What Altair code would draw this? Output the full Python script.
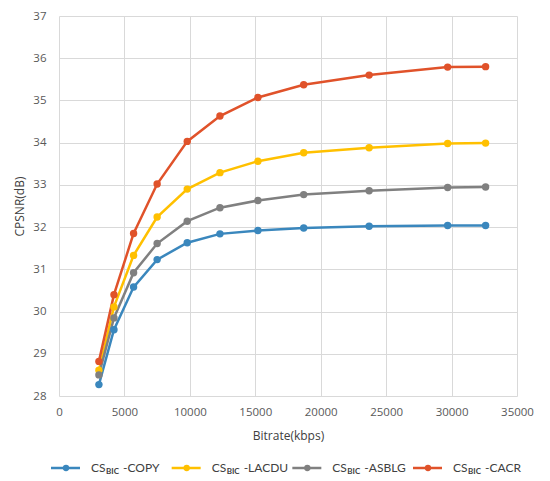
import altair as alt
import pandas as pd

bitrate = [3050, 4200, 5700, 7500, 9800, 12300, 15200, 18700, 23700, 29700, 32600]
copy_vals = [28.27, 29.57, 30.58, 31.23, 31.63, 31.84, 31.92, 31.98, 32.02, 32.04, 32.04]
lacdu_vals = [28.61, 30.11, 31.33, 32.24, 32.90, 33.29, 33.56, 33.76, 33.88, 33.98, 33.99]
asblg_vals = [28.50, 29.85, 30.92, 31.61, 32.14, 32.46, 32.63, 32.77, 32.86, 32.94, 32.95]
cacr_vals = [28.82, 30.40, 31.85, 33.02, 34.03, 34.63, 35.07, 35.37, 35.60, 35.79, 35.80]

names = ["COPY", "LACDU", "ASBLG", "CACR"]
suffixes = ["-COPY", "-LACDU", "-ASBLG", "-CACR"]
colors = ["#3A87BD", "#FFC000", "#808080", "#E0522A"]

rows = []
for name, vals in zip(names, [copy_vals, lacdu_vals, asblg_vals, cacr_vals]):
    for b, v in zip(bitrate, vals):
        rows.append({"series": name, "bitrate": b, "cpsnr": v})
df = pd.DataFrame(rows)

color_scale = alt.Scale(domain=names, range=colors)
FONT = "Open Sans"
LFONT = "Lato"

main = alt.Chart(df).mark_line(
    strokeWidth=2.5,
    point=alt.OverlayMarkDef(filled=True, size=55, opacity=1),
).encode(
    x=alt.X("bitrate:Q", title="Bitrate(kbps)",
            scale=alt.Scale(domain=[0, 35000], nice=False),
            axis=alt.Axis(values=list(range(0, 35001, 5000)), format="d",
                          labelPadding=10, titlePadding=13, labelFlush=False)),
    y=alt.Y("cpsnr:Q", title="CPSNR(dB)",
            scale=alt.Scale(domain=[28, 37], nice=False, zero=False),
            axis=alt.Axis(values=list(range(28, 38)), labelPadding=13, titlePadding=6,
                          labelFlush=False)),
    color=alt.Color("series:N", scale=color_scale, legend=None),
    order=alt.Order("bitrate:Q"),
).properties(width=458, height=380)

leg_df = pd.DataFrame({"series": names, "suffix": suffixes})
xleg = alt.X("series:N", scale=alt.Scale(type="point", domain=names, range=[-8, 354], padding=0),
             axis=None)
lbase = alt.Chart(leg_df).encode(x=xleg, y=alt.value(7))

leg_rule = lbase.mark_rule(strokeWidth=2.5, x2Offset=29).encode(
    x2=alt.X2("series:N"),
    color=alt.Color("series:N", scale=color_scale, legend=None))
leg_pt = lbase.mark_circle(size=40, opacity=1, xOffset=15).encode(
    color=alt.Color("series:N", scale=color_scale, legend=None))
leg_cs = lbase.mark_text(text="CS", align="left", baseline="middle", dx=40,
                         fontSize=12, font=LFONT, color="#404040")
leg_bic = lbase.mark_text(text="BIC", align="left", baseline="middle", dx=55, dy=4,
                          fontSize=8, fontWeight="bold", font=LFONT, color="#404040")
leg_suf = lbase.mark_text(align="left", baseline="middle", dx=72,
                          fontSize=12, font=LFONT, color="#404040").encode(text="suffix:N")

legend = alt.layer(leg_rule, leg_pt, leg_cs, leg_bic, leg_suf).properties(width=458, height=14)

chart = alt.vconcat(main, legend, spacing=19).properties(
    padding={"top": 2, "left": 5, "right": 4, "bottom": 0}
).configure_view(stroke=None).configure_axis(
    grid=True, gridColor="#D9D9D9", gridWidth=1,
    domain=False, ticks=False,
    labelFont=FONT, labelFontSize=11.5, labelColor="#595959",
    titleFont=FONT, titleFontSize=12, titleFontWeight="normal", titleColor="#404040",
)

chart.save("out.html", embed_options={"renderer": "svg", "actions": False})
